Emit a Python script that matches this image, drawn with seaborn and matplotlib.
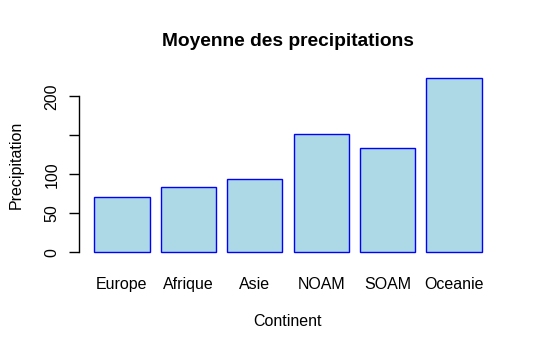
import matplotlib
matplotlib.use('Agg')
import matplotlib.pyplot as plt
import seaborn as sns
import pandas as pd

# données
continents = ['Europe', 'Afrique', 'Asie', 'NOAM', 'SOAM', 'Oceanie']
precip = [70.5, 83.3, 93.6, 151.3, 133.3, 223.0]
yticks = [0, 50, 100, 150, 200]
ytick_labels = ['0', '50', '100', '', '200']

df = pd.DataFrame({'Continent': continents, 'Precipitation': precip})

sns.set_style('white')
plt.rcParams['font.family'] = ['Liberation Sans', 'DejaVu Sans']
plt.rcParams['text.color'] = 'black'
plt.rcParams['axes.labelcolor'] = 'black'
plt.rcParams['xtick.color'] = 'black'
plt.rcParams['ytick.color'] = 'black'

fig = plt.figure(figsize=(5.37, 3.52), dpi=100)
ax = fig.add_axes([0.1467, 0.2636, 0.9259 - 0.1467, 0.7972 - 0.2636])

sns.barplot(data=df, x='Continent', y='Precipitation', color='#ADD8E6',
            edgecolor='#0000FF', linewidth=1, width=1 / 1.2, saturation=1, ax=ax)

ymax = max(precip)
ax.set_ylim(-0.04 * ymax, 1.04 * ymax)
ax.set_xlim(-0.65, len(continents) - 1 + 0.65)

ax.set_yticks(yticks)
ax.set_yticklabels(ytick_labels, rotation=90, va='center', fontsize=11.5)
ax.tick_params(axis='y', length=7, width=1, pad=7, left=True)
ax.tick_params(axis='x', length=0, pad=13, labelsize=11.5)

for s in ['top', 'right', 'bottom']:
    ax.spines[s].set_visible(False)
ax.spines['left'].set_bounds(0, 200)
ax.spines['left'].set_color('black')
ax.spines['left'].set_linewidth(1)

ax.set_xlabel('Continent', fontsize=11.5, labelpad=16)
ax.set_ylabel('Precipitation', fontsize=11.5, labelpad=15)
ax.set_title('Moyenne des precipitations', fontsize=13.8, fontweight='bold', pad=18)

plt.savefig('out.png', dpi=100)
plt.close()
